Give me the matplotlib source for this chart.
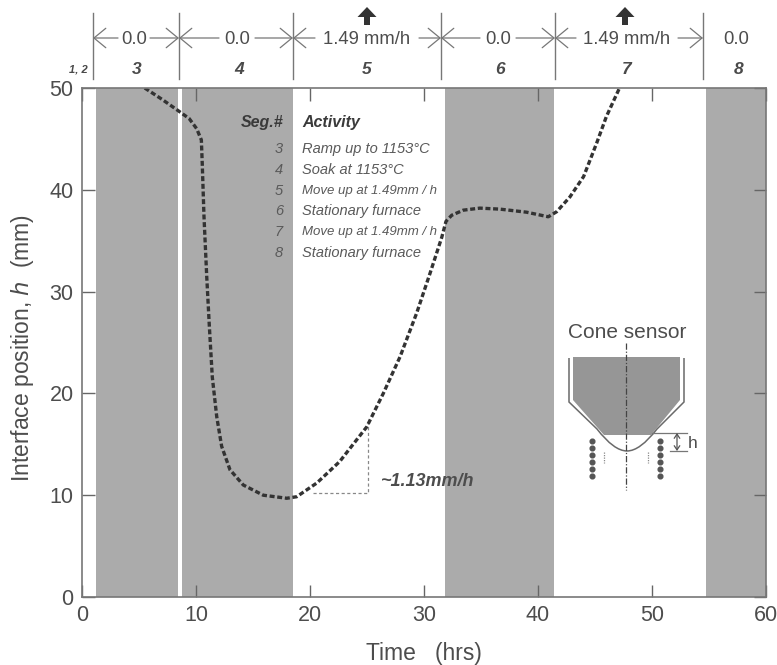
#!/usr/bin/env python3
# plot.py - interface position vs time, with furnace segments
import numpy as np
import matplotlib
matplotlib.use("Agg")
import matplotlib.pyplot as plt
from matplotlib.patches import Polygon, FancyArrow, PathPatch
from matplotlib.path import Path

plt.rcParams["font.family"] = ["Liberation Sans", "DejaVu Sans"]

W, H = 777, 665
INK = "#4d4d4d"
GREY = "#ababab"

# Curve
time_hrs = [5.5, 7.0, 8.4, 9.4, 10.06, 10.47, 10.55, 10.7, 10.94, 11.17, 11.43, 11.82, 12.25, 12.98,
            14.15, 15.9, 17.96, 18.83, 20.6, 22.6, 24.97, 26.43, 27.9, 29.36, 30.53, 31.55, 31.93,
            32.43, 33.45, 34.9, 36.67, 39.0, 40.9, 41.64, 42.8, 44.0, 45.15, 46.0, 47.15]
height_mm = [50.0, 48.9, 47.8, 47.0, 46.0, 44.9, 42.5, 37.4, 31.5, 26.6, 21.6, 17.7, 14.8, 12.5,
             11.0, 10.0, 9.7, 9.85, 11.2, 13.3, 16.7, 20.0, 23.6, 27.9, 31.8, 35.3, 36.9,
             37.5, 38.0, 38.2, 38.1, 37.8, 37.35, 37.85, 39.3, 41.3, 44.6, 47.2, 50.0]

# Shaded furnace segments (start, end) in hours
band_start = [1.2, 8.8, 31.84, 54.74]
band_end = [8.45, 18.5, 41.4, 60.0]

slope_x = [20.3, 25.1, 25.1]
slope_y = [10.2, 10.2, 17.2]

xticks = [0, 10, 20, 30, 40, 50, 60]
yticks = [0, 10, 20, 30, 40, 50]

seg_ids = ["3", "4", "5", "6", "7", "8"]
activities = ["Ramp up to 1153°C", "Soak at 1153°C", "Move up at 1.49mm / h",
              "Stationary furnace", "Move up at 1.49mm / h", "Stationary furnace"]
rates = ["0.0", "0.0", "1.49 mm/h", "0.0", "1.49 mm/h", "0.0"]

# Strip above the plot, in image pixels
seg_edges = [93, 179, 293, 441, 555, 703]
rate_x = [134, 237, 367, 498, 627, 736]
seg_x = [137, 239, 367, 500, 627, 739]
rate_half = [16, 18, 52, 18, 51, 0]

fig = plt.figure(figsize=(W / 100, H / 100), dpi=100, facecolor="white")
L, R, T, B = 82, 766, 88, 597
ax = fig.add_axes([L / W, 1 - B / H, (R - L) / W, (B - T) / H])

for a, b in zip(band_start, band_end):
    ax.axvspan(a, b, color=GREY, lw=0, zorder=1)

ax.plot(time_hrs, height_mm, color="#333333", lw=2.4, dashes=(1.5, 0.8), zorder=4)
ax.plot(slope_x, slope_y, color="#888888", lw=0.9, dashes=(2.5, 2), zorder=3)

ax.set_xlim(0, 60)
ax.set_ylim(0, 50)
ax.set_xticks(xticks)
ax.set_yticks(yticks)
ax.tick_params(direction="in", length=9, width=1, color="#666666", top=True, right=True,
               labelsize=15.5, labelcolor=INK, pad=6)
for s in ax.spines.values():
    s.set_color("#777777")
    s.set_linewidth(1.2)
    s.set_zorder(5)
ax.set_xlabel("Time   (hrs)", fontsize=16.5, color=INK, labelpad=11)
ax.set_ylabel("Interface position, $\\mathit{h}$  (mm)", fontsize=16.5, color=INK, labelpad=10, y=0.49)

ax.text(26.2, 11.3, "~1.13mm/h", fontsize=13, style="italic", weight="bold", color=INK, va="center", zorder=5)

# Overlay in image pixels for the strip, the table and the cone sketch
ov = fig.add_axes([0, 0, 1, 1], facecolor="none")
ov.set_xlim(0, W)
ov.set_ylim(H, 0)
ov.axis("off")

# legend table
ov.text(283, 122, "Seg.#", fontsize=11.5, style="italic", weight="bold", color="#3a3a3a", ha="right", va="center")
ov.text(302, 122, "Activity", fontsize=11.5, style="italic", weight="bold", color="#3a3a3a", va="center")
for i, (sid, act) in enumerate(zip(seg_ids, activities)):
    y = 149 + i * 20.8
    ov.text(283, y, sid, fontsize=10.5, style="italic", color="#5a5a5a", ha="right", va="center")
    # the "Move up" rows are set tighter in the original
    fs = 9.5 if act.startswith("Move") else 10.5
    ov.text(302, y, act, fontsize=fs, style="italic", color="#5a5a5a", va="center")

# top strip
for xe in seg_edges:
    ov.plot([xe, xe], [13, 79], color="#777777", lw=1)
for i in range(5):
    tx, hw = rate_x[i], rate_half[i]
    for start, end in ((tx - hw, seg_edges[i]), (tx + hw, seg_edges[i + 1])):
        ov.annotate("", xy=(end, 38), xytext=(start, 38),
                    arrowprops=dict(arrowstyle="->,head_length=0.85,head_width=0.7", color="#777777",
                                    lw=0.9, shrinkA=0, shrinkB=0))
for tx, txt in zip(rate_x, rates):
    ov.text(tx, 39, txt, fontsize=13.3, color=INK, ha="center", va="center")
for tx, sid in zip(seg_x, seg_ids):
    ov.text(tx, 69, sid, fontsize=12.5, style="italic", weight="bold", color="#4a4a4a", ha="center", va="center")
ov.text(78, 69, "1, 2", fontsize=8, style="italic", weight="bold", color="#4a4a4a", ha="center", va="center")
for ax_x in (367, 625):
    ov.add_patch(FancyArrow(ax_x, 25, 0, -18, width=6, head_width=19, head_length=10,
                            length_includes_head=True, color="#333333", lw=0))

# cone sensor sketch
ov.text(627, 332, "Cone sensor", fontsize=15, color=INK, ha="center", va="center")
ov.add_patch(Polygon([(573, 357), (680, 357), (680, 400), (651, 435), (604, 435), (573, 400)],
                     closed=True, facecolor="#969696", edgecolor="none"))
verts = [(684, 358), (684, 402), (657, 429), (640, 451), (627, 451), (614, 451), (597, 429), (569, 402), (569, 358)]
codes = [Path.MOVETO, Path.LINETO, Path.LINETO, Path.CURVE3, Path.CURVE3, Path.CURVE3, Path.CURVE3, Path.LINETO, Path.LINETO]
ov.add_patch(PathPatch(Path(verts, codes), fill=False, edgecolor="#6a6a6a", lw=1.1))
ov.plot([626, 626], [343, 490], color="#444444", lw=0.9, dashes=(5, 1.5, 1, 1.5))
for dx in (592, 660):
    ov.plot([dx] * 6, np.linspace(441, 476, 6), "o", color="#555555", ms=3.4, lw=0)
for dx in (604, 648):
    ov.plot([dx, dx], [452, 463], color="#888888", lw=0.9, dashes=(1, 1))
ov.plot([652, 687], [433, 433], color="#777777", lw=0.9)
ov.plot([670, 687], [451, 451], color="#777777", lw=0.9)
ov.annotate("", xy=(677, 433), xytext=(677, 451),
            arrowprops=dict(arrowstyle="<->,head_length=0.3,head_width=0.2", color="#555555", lw=0.9, shrinkA=0, shrinkB=0))
ov.text(693, 444, "h", fontsize=12.5, color=INK, ha="center", va="center")

fig.savefig("out.png", dpi=100, facecolor="white")
